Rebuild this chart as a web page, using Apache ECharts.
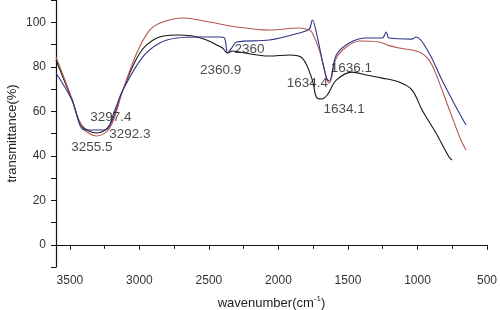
<!DOCTYPE html>
<html>
<head>
<meta charset="utf-8">
<script src="https://cdn.jsdelivr.net/npm/echarts@6/dist/echarts.min.js"></script>
<style>
  html, body { margin: 0; padding: 0; background: #fff; }
  #ftir { width: 500px; height: 310px; }
</style>
</head>
<body>
<div id="ftir"></div>
<script>
// wavenumber (cm-1) / transmittance (%)
var blackWn = [3600, 3485, 3413, 3306, 3213, 3119, 2997, 2875, 2732, 2617, 2517, 2445, 2402, 2366, 2330, 2280, 2065, 1921, 1828, 1756, 1728, 1692, 1649, 1584, 1469, 1369, 1254, 1132, 1039, 967, 867, 773, 752];
var blackT  = [83, 65.1, 53.4, 50.2, 53.8, 69.5, 86.2, 92.9, 94.3, 93.8, 92, 89.8, 88.4, 86.2, 87.1, 86.6, 84.8, 85.3, 83.9, 74, 66.4, 65.5, 67.3, 74, 77.6, 76.3, 74.9, 73.1, 69.5, 60.6, 50.2, 39.4, 38.1];

var redWn = [3600, 3485, 3413, 3306, 3213, 3119, 3019, 2926, 2832, 2689, 2495, 2301, 2065, 1849, 1778, 1756, 1706, 1649, 1634, 1584, 1512, 1419, 1276, 1204, 1132, 989, 917, 867, 810, 738, 688, 651];
var redT  = [84.4, 65.6, 53, 48.9, 52.5, 69.5, 86.2, 96.5, 100.1, 101.9, 100.1, 97.9, 96.5, 97.4, 96.5, 95.2, 87.5, 74, 72.7, 83.9, 88.9, 91.6, 91.1, 89.5, 88.4, 86.6, 83, 76.7, 67.3, 55.2, 47.1, 42.6];

var blueWn = [3600, 3485, 3392, 3248, 3177, 3119, 2976, 2854, 2732, 2567, 2423, 2388, 2366, 2337, 2301, 2065, 1849, 1778, 1756, 1728, 1656, 1634, 1584, 1491, 1369, 1254, 1225, 1204, 1039, 1010, 917, 824, 723, 651];
var blueT  = [77.2, 65.1, 51.6, 51.6, 60.6, 69.5, 84.4, 90.7, 92.9, 93.4, 93.4, 92.9, 86.2, 88.4, 91.1, 92, 95.2, 97, 101, 95.6, 75, 73.6, 85.3, 90.7, 92.9, 92.9, 95.6, 92.9, 92.4, 93.4, 86.2, 74, 61.9, 53.8];

// peak labels, placed at their centre in data units
var peakText = ['3297.4', '3292.3', '3255.5', '2360.9', '2360', '1634.4', '1636.1', '1634.1'];
var peakWn   = [3205, 3069, 3342, 2416, 2208, 1792, 1476, 1527];
var peakT    = [57.4, 49.8, 43.9, 78.5, 88, 72.7, 79.4, 61];

function pairs(xs, ys) {
  return xs.map(function (x, i) { return [x, ys[i]]; });
}

var myChart = echarts.init(document.getElementById('ftir'));

function lineSeries(name, xs, ys, color) {
  return {
    name: name,
    type: 'line',
    symbol: 'none',
    smooth: 0.35,
    data: pairs(xs, ys),
    lineStyle: { color: color, width: 1.1 },
    z: 2
  };
}

myChart.setOption({
  animation: false,
  textStyle: { fontFamily: 'Liberation Sans, Arial, sans-serif' },
  grid: { left: 56, right: 13, top: 0, bottom: 43, containLabel: false, outerBoundsMode: 'none' },
  xAxis: {
    type: 'value',
    inverse: true,
    min: 500,
    max: 3600,
    interval: 500,
    name: '{n|wavenumber(cm}{s|-1}{n|)}',
    nameLocation: 'middle',
    nameGap: 28,
    nameTextStyle: {
      rich: {
        n: { fontSize: 13, color: '#222', fontFamily: 'Liberation Sans' },
        s: { fontSize: 8, color: '#222', verticalAlign: 'top', padding: [0, 0, 8, 0], fontFamily: 'Liberation Sans' }
      }
    },
    axisLine: { lineStyle: { color: '#111', width: 1.2 } },
    axisTick: { inside: false, length: 5, lineStyle: { color: '#111' } },
    minorTick: { show: true, splitNumber: 2, length: 4, lineStyle: { color: '#111' } },
    axisLabel: {
      color: '#333',
      fontSize: 12,
      margin: 8,
      formatter: function (v) { return String(v); }
    },
    splitLine: { show: false }
  },
  yAxis: {
    type: 'value',
    min: -10,
    max: 110,
    interval: 10,
    name: 'transmittance(%)',
    nameLocation: 'middle',
    nameGap: 37,
    nameMoveOverlap: false,
    nameTextStyle: { fontSize: 13, color: '#222' },
    axisLine: { show: true, lineStyle: { color: '#111', width: 1.2 } },
    axisTick: { inside: false, length: 5, lineStyle: { color: '#111' } },
    axisLabel: {
      color: '#333',
      fontSize: 12,
      margin: 10,
      formatter: function (v) { return v % 20 === 0 && v >= 0 && v <= 100 ? String(v) : ''; }
    },
    splitLine: { show: false }
  },
  series: [
    lineSeries('black', blackWn, blackT, '#161616'),
    lineSeries('red', redWn, redT, '#b5564e'),
    lineSeries('blue', blueWn, blueT, '#2f3488'),
    {
      name: 'peaks',
      type: 'scatter',
      symbolSize: 1,
      itemStyle: { color: 'rgba(0,0,0,0)' },
      data: peakWn.map(function (w, i) { return [w, peakT[i], peakText[i]]; }),
      label: {
        show: true,
        position: 'inside',
        formatter: function (p) { return p.value[2]; },
        color: '#1a1a1a',
        fontSize: 13.5
      },
      z: 5
    }
  ]
});
</script>
</body>
</html>
